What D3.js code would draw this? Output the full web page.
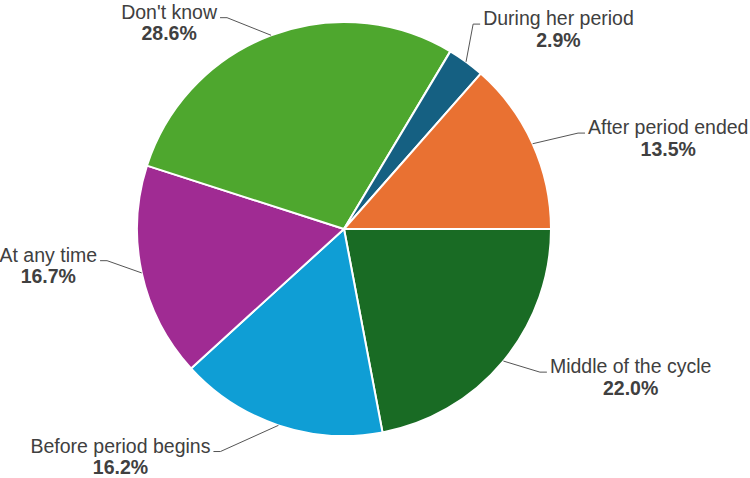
<!DOCTYPE html>
<html>
<head>
<meta charset="utf-8">
<script src="https://cdn.jsdelivr.net/npm/d3@7"></script>
<style>
  html, body { margin: 0; padding: 0; background: #ffffff; }
  svg { display: block; }
  text { font-family: "Liberation Sans", Arial, sans-serif; }
</style>
</head>
<body>
<svg id="chart" width="750" height="478"></svg>
<script>
// ---- Data (clockwise, starting at 3 o'clock) ----
const categories = ["Middle of the cycle", "Before period begins", "At any time", "Don't know", "During her period", "After period ended"];
const values = [22.0, 16.2, 16.7, 28.6, 2.9, 13.5];
const colors = ["#196B24", "#0F9ED5", "#A02B93", "#4EA72E", "#156082", "#E97132"];

// ---- Layout ----
const W = 750, H = 478;
const cx = 344, cy = 229, radius = 207;
// label connector end (polar: degrees clockwise from north, distance from centre)
const labelAngleDeg = [125.2, 210.4, 262.6, 329.6, 33.6, 68.3];
const labelDist = [248.3, 258, 246, 245, 246, 259.4];
const crook = 7, gap = 3, fontSize = 19.5, lineGap = 21.5;

const svg = d3.select("#chart");
const g = svg.append("g").attr("transform", `translate(${cx},${cy})`);

const pie = d3.pie().sort(null).value(d => d)
  .startAngle(Math.PI / 2).endAngle(Math.PI / 2 + 2 * Math.PI);
const arcs = pie(values);
const arc = d3.arc().innerRadius(0).outerRadius(radius);

g.selectAll("path.slice").data(arcs).join("path")
  .attr("class", "slice")
  .attr("d", arc)
  .attr("fill", (d, i) => colors[i])
  .attr("stroke", "#ffffff")
  .attr("stroke-width", 2)
  .attr("stroke-linejoin", "round");

const fmt = d3.format(".1f");

arcs.forEach((d, i) => {
  const mid = (d.startAngle + d.endAngle) / 2;
  const sx = radius * Math.sin(mid), sy = -radius * Math.cos(mid);
  const la = labelAngleDeg[i] * Math.PI / 180;
  const ex = labelDist[i] * Math.sin(la), ey = -labelDist[i] * Math.cos(la);
  const right = ex > 0;
  const kx = right ? ex - crook : ex + crook;
  g.append("path")
    .attr("d", `M${sx},${sy}L${kx},${ey}L${ex},${ey}`)
    .attr("fill", "none")
    .attr("stroke", "#555555")
    .attr("stroke-width", 1);

  const tx = right ? ex + gap : ex - gap;
  const name = g.append("text")
    .attr("x", tx).attr("y", ey + 1)
    .attr("text-anchor", right ? "start" : "end")
    .attr("font-size", fontSize)
    .attr("fill", "#404040")
    .text(categories[i]);
  const w = name.node().getComputedTextLength();
  const centerX = right ? tx + w / 2 : tx - w / 2;
  g.append("text")
    .attr("x", centerX).attr("y", ey + 1 + lineGap)
    .attr("text-anchor", "middle")
    .attr("font-size", fontSize)
    .attr("font-weight", "bold")
    .attr("fill", "#404040")
    .text(fmt(values[i]) + "%");
});
</script>
</body>
</html>
